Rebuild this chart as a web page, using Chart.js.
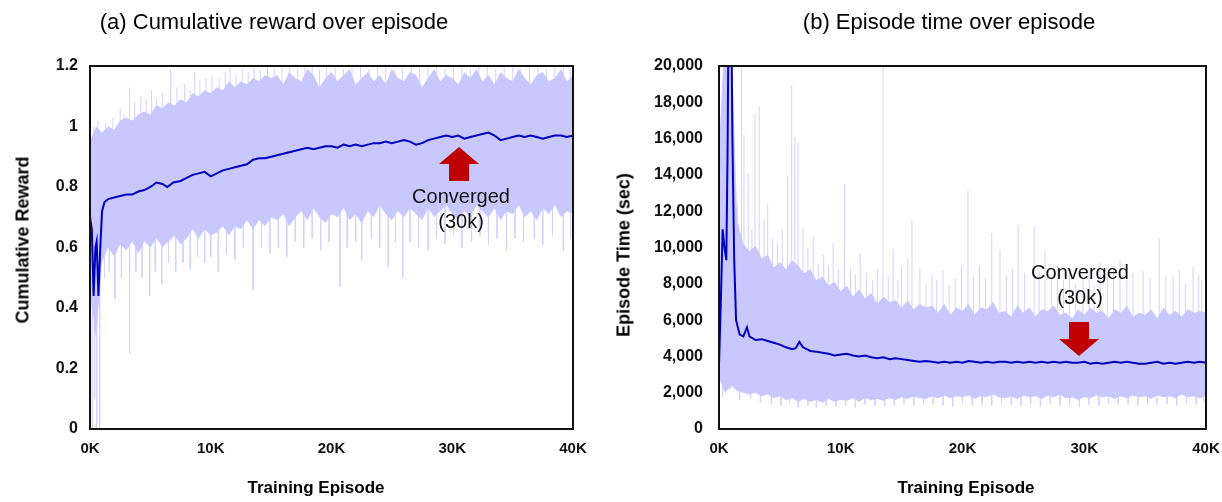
<!DOCTYPE html>
<html>
<head>
<meta charset="utf-8">
<script src="https://cdn.jsdelivr.net/npm/chart.js@4.4.0/dist/chart.umd.min.js"></script>
<style>
body { margin: 0; background: #fff; width: 1222px; height: 502px; position: relative; overflow: hidden; font-family: "Liberation Sans", Arial, sans-serif; color: #000; }
canvas { position: absolute; top: 0; }
#rewardChart { left: 0; }
#timeChart { left: 606px; }
.title { position: absolute; font-size: 22px; transform: translate(-50%, -50%); white-space: nowrap; }
.xtitle { position: absolute; font-size: 17px; font-weight: bold; transform: translate(-50%, -50%); white-space: nowrap; }
.ytitle { position: absolute; font-size: 18px; font-weight: bold; transform: translate(-50%, -50%) rotate(-90deg); white-space: nowrap; }
</style>
</head>
<body>
<canvas id="rewardChart" width="600" height="502"></canvas>
<canvas id="timeChart" width="625" height="502"></canvas>

<div class="title" style="left:274px; top:22px;">(a) Cumulative reward over episode</div>
<div class="title" style="left:949px; top:22px;">(b) Episode time over episode</div>
<div class="xtitle" style="left:316px; top:488px;">Training Episode</div>
<div class="xtitle" style="left:966px; top:488px;">Training Episode</div>
<div class="ytitle" style="left:23px; top:240px;">Cumulative Reward</div>
<div class="ytitle" style="left:624px; top:255px;">Episode Time (sec)</div>

<script>
// axis ticks
const episodeTicks = [0, 10000, 20000, 30000, 40000];
const episodeTickLabels = ['0K', '10K', '20K', '30K', '40K'];
const rewardTicks = [0, 0.2, 0.4, 0.6, 0.8, 1, 1.2];
const timeTicks = [0, 2000, 4000, 6000, 8000, 10000, 12000, 14000, 16000, 18000, 20000];

// raw-data band, dense part (read every 500 episodes)
const bandEpisodes = [0,500,1000,1500,2000,2500,3000,3500,4000,4500,5000,5500,6000,6500,7000,7500,8000,8500,9000,9500,
    10000,10500,11000,11500,12000,12500,13000,13500,14000,14500,15000,15500,16000,16500,17000,17500,18000,18500,19000,19500,
    20000,20500,21000,21500,22000,22500,23000,23500,24000,24500,25000,25500,26000,26500,27000,27500,28000,28500,29000,29500,
    30000,30500,31000,31500,32000,32500,33000,33500,34000,34500,35000,35500,36000,36500,37000,37500,38000,38500,39000,39500,40000];

const rewardUpper = [0.95,1.00,0.98,1.00,0.99,1.02,1.03,1.02,1.04,1.05,1.04,1.07,1.06,1.08,1.07,1.09,1.08,1.11,1.10,1.12,
    1.11,1.13,1.12,1.15,1.13,1.15,1.14,1.16,1.15,1.17,1.16,
    1.17,1.14,1.18,1.16,1.15,1.19,1.17,1.13,1.16,1.18,
    1.15,1.17,1.19,1.14,1.16,1.18,1.15,1.17,1.14,1.19,
    1.16,1.15,1.18,1.17,1.13,1.16,1.19,1.15,1.17,1.16,
    1.14,1.18,1.16,1.19,1.15,1.17,1.14,1.18,1.16,1.15,
    1.19,1.16,1.14,1.17,1.18,1.15,1.16,1.19,1.15,1.17];
const rewardLower = [0.45,0.30,0.55,0.60,0.57,0.61,0.59,0.62,0.58,0.62,0.60,0.63,0.60,0.62,0.64,0.61,0.63,0.66,0.63,0.66,
    0.64,0.65,0.67,0.64,0.67,0.66,0.69,0.66,0.69,0.67,0.70,
    0.69,0.71,0.67,0.70,0.72,0.69,0.73,0.70,0.68,0.71,
    0.70,0.73,0.69,0.71,0.68,0.72,0.70,0.74,0.71,0.69,
    0.72,0.70,0.73,0.71,0.69,0.73,0.70,0.72,0.74,0.71,
    0.69,0.72,0.70,0.74,0.72,0.70,0.73,0.69,0.72,0.71,
    0.74,0.70,0.72,0.69,0.73,0.71,0.74,0.70,0.72,0.71];

const timeUpper = [15500,22000,22000,11500,10200,9800,10100,9400,9600,8900,9200,8800,9300,9000,8600,8800,8200,8400,7900,8100,
    7600,7900,7300,7700,7200,7500,6900,7300,7000,7100,6700,7100,6600,6900,6700,6800,6400,6900,6300,6700,
    6500,6900,6300,6700,6600,7000,6400,6500,6200,6800,6400,6700,6200,6600,6500,6800,6300,6400,6100,6600,
    6300,6700,6400,6500,6100,6600,6400,6800,6200,6400,6300,6600,6100,6700,6300,6500,6200,6600,6400,6500,6400];
const timeLower = [2800,2000,2400,2100,2000,1900,2000,1800,1900,1700,1800,1600,1700,1500,1650,1500,1600,1450,1650,1500,
    1600,1550,1700,1500,1700,1600,1650,1550,1700,1600,1750,1650,1800,1700,1650,1800,1700,1850,1700,1800,
    1750,1850,1650,1800,1750,1900,1750,1700,1800,1650,1850,1750,1800,1650,1850,1750,1900,1700,1750,1600,
    1750,1700,1850,1750,1800,1650,1800,1700,1850,1750,1800,1650,1850,1750,1800,1700,1900,1750,1800,1700,1800];

// single raw episodes that stick out of the band: [episode, value]
const rewardSpikesUp = [[300,1.0],[660,1.02],[1300,1.01],[1900,1.03],[2500,1.06],[2800,1.04],[3280,1.13],[3700,1.08],[4200,1.1],
    [4660,1.09],[5100,1.12],[5500,1.09],[6000,1.11],[6680,1.19],[7200,1.13],[7840,1.14],[8300,1.12],[8670,1.18],[9100,1.15],
    [9600,1.16],[10100,1.17],[10700,1.16],[11200,1.18],[11600,1.2],[12100,1.17],[12600,1.19],[13100,1.18],[13600,1.2],
    [14100,1.19],[14700,1.2],[15300,1.19],[15900,1.2],[16500,1.2],[17200,1.19],[17800,1.2],[18400,1.2],[19000,1.19],
    [19600,1.2],[20300,1.2],[21000,1.19],[21700,1.2],[22400,1.2],[23100,1.19],[23800,1.2],[24500,1.2],[25200,1.19],
    [25900,1.2],[26600,1.2],[27300,1.19],[28000,1.2],[28700,1.2],[29400,1.19],[30100,1.2],[30800,1.2],[31500,1.19],
    [32200,1.2],[32900,1.2],[33600,1.19],[34300,1.2],[35000,1.2],[35700,1.19],[36400,1.2],[37100,1.2],[37800,1.19],
    [38500,1.2],[39200,1.2],[39800,1.19]];
const rewardSpikesDown = [[200,0],[380,0.1],[550,0],[800,0],[1200,0.5],[1600,0.52],[2070,0.43],[2600,0.5],[3280,0.25],
    [3800,0.52],[4300,0.5],[4940,0.44],[5400,0.52],[5940,0.48],[6500,0.55],[7100,0.52],[7700,0.55],[8300,0.53],[8900,0.57],
    [9500,0.55],[10000,0.57],[10620,0.52],[11300,0.58],[12000,0.56],[12700,0.6],[13500,0.46],[14200,0.6],[14900,0.58],
    [15600,0.6],[16300,0.57],[17000,0.62],[17700,0.6],[18400,0.63],[19100,0.59],[19800,0.62],[20700,0.47],[21300,0.6],
    [22000,0.62],[22500,0.56],[23300,0.63],[24000,0.6],[24700,0.535],[25300,0.62],[25900,0.5],[26500,0.62],[27200,0.6],
    [28000,0.59],[28700,0.63],[29400,0.61],[30100,0.64],[30800,0.6],[31600,0.62],[32300,0.64],[33000,0.61],[33700,0.63],
    [34500,0.59],[35200,0.63],[35900,0.62],[36800,0.63],[37500,0.61],[38300,0.64],[39200,0.59],[39800,0.63]];

const timeSpikesUp = [[200,12000],[500,16000],[1500,12400],[1860,20000],[2050,16200],[2400,14100],[2700,11000],[2960,17400],
    [3300,17750],[3700,11500],[4000,12400],[4400,10500],[4800,10200],[5200,11000],[5640,13900],[5970,18950],[6240,16100],
    [6490,15750],[6900,11100],[7300,10000],[7740,10600],[8150,9100],[8600,9600],[9000,9000],[9380,10250],[9800,8800],
    [10300,13500],[10800,8900],[11200,8500],[11600,9700],[12100,8600],[12600,8200],[13000,8800],[13470,20000],[13900,8400],
    [14300,9900],[14700,8200],[15000,8900],[15500,9400],[15850,11500],[16500,8900],[17000,8000],[17500,8500],[17880,8200],
    [18400,8700],[18900,7900],[19400,8300],[19930,8950],[20450,13150],[20900,8400],[21400,9000],[21900,8300],[22400,10800],
    [23080,9850],[23600,8500],[24100,8800],[24570,11250],[25100,8600],[25880,11150],[26300,8700],[26780,9850],[27300,8400],
    [27800,9000],[28300,8200],[28800,8800],[29300,8000],[29900,8300],[30400,8700],[30800,7900],[31300,9150],[31900,8400],
    [32400,8800],[32940,9300],[33500,8200],[34000,8600],[34830,8700],[35400,8300],[36150,10500],[36700,8400],[37300,8400],
    [37800,8800],[38300,8000],[38940,8950],[39400,8500],[39650,8200]];
const timeSpikesDown = [[300,1800],[900,2200],[1700,1600],[2600,1700],[3400,1500],[4300,1400],[5100,1300],[5800,1400],
    [6500,1200],[7300,1300],[8000,1200],[8800,1300],[9600,1250],[10400,1300],[11200,1200],[12000,1350],[12800,1300],
    [13600,1250],[14400,1300],[15200,1400],[16000,1300],[16800,1400],[17600,1350],[18400,1300],[19200,1250],[20000,1400],
    [20800,1300],[21600,1350],[22400,1300],[23200,1400],[24000,1350],[24800,1300],[25600,1400],[26400,1250],[27200,1400],
    [28000,1300],[28800,1350],[29600,1200],[30400,1350],[31200,1300],[32000,1400],[32800,1350],[33600,1400],[34400,1300],
    [35200,1400],[36000,1350],[36800,1400],[37600,1300],[38400,1400],[39200,1350],[39800,1500]];

// moving average: [episode, value]
const rewardMean = [[0,0.70],[150,0.66],[300,0.44],[450,0.60],[550,0.62],[700,0.44],[850,0.60],[1000,0.72],[1200,0.75],
    [1500,0.76],[2000,0.765],[2500,0.77],[3000,0.775],[3500,0.775],[4000,0.785],[4500,0.79],[5000,0.80],[5500,0.815],
    [6000,0.81],[6400,0.80],[6900,0.815],[7500,0.82],[8000,0.83],[8500,0.84],[9000,0.845],[9500,0.85],[10000,0.835],
    [10500,0.845],[11000,0.855],[11500,0.86],[12000,0.865],[12500,0.87],[13000,0.875],[13500,0.89],[14000,0.895],
    [14500,0.895],[15000,0.90],[15500,0.905],[16000,0.91],[16500,0.915],[17000,0.92],[17500,0.925],[18000,0.93],
    [18500,0.925],[19000,0.93],[19500,0.935],[20000,0.935],[20500,0.93],[21000,0.94],[21500,0.935],[22000,0.94],
    [22500,0.935],[23000,0.94],[23500,0.945],[24000,0.945],[24500,0.95],[25000,0.945],[25500,0.95],[26000,0.955],
    [26500,0.95],[27000,0.94],[27500,0.945],[28000,0.955],[28500,0.96],[29000,0.965],[29500,0.97],[30000,0.965],
    [30500,0.97],[31000,0.96],[31500,0.965],[32000,0.97],[32500,0.975],[33000,0.98],[33500,0.97],[34000,0.955],
    [34500,0.96],[35000,0.965],[35500,0.97],[36000,0.965],[36500,0.97],[37000,0.965],[37500,0.96],[38000,0.965],
    [38500,0.97],[39000,0.97],[39500,0.965],[40000,0.97]];
const timeMean = [[0,3500],[150,7000],[300,11000],[450,10000],[600,9300],[700,15000],[800,24000],[1000,24000],[1100,16000],
    [1250,9300],[1400,6000],[1700,5200],[2000,5100],[2300,5600],[2500,5100],[3000,4900],[3500,4950],[4000,4850],[4500,4750],
    [5000,4650],[5500,4500],[6000,4400],[6300,4450],[6600,4800],[6900,4500],[7500,4300],[8000,4250],[8500,4200],[9000,4150],
    [9500,4050],[10000,4100],[10500,4150],[11000,4050],[11500,4000],[12000,4050],[12500,3950],[13000,3900],[13500,3950],
    [14000,3850],[14500,3900],[15000,3850],[15500,3800],[16000,3750],[16500,3700],[17000,3750],[17500,3700],[18000,3650],
    [18500,3700],[19000,3650],[19500,3700],[20000,3650],[20500,3750],[21000,3700],[21500,3650],[22000,3700],[22500,3650],
    [23000,3700],[23500,3700],[24000,3650],[24500,3700],[25000,3650],[25500,3700],[26000,3650],[26500,3700],[27000,3650],
    [27500,3700],[28000,3650],[28500,3700],[29000,3650],[29500,3650],[30000,3700],[30500,3600],[31000,3650],[31500,3600],
    [32000,3650],[32500,3700],[33000,3650],[33500,3700],[34000,3650],[34500,3600],[35000,3600],[35500,3650],[36000,3700],
    [36500,3600],[37000,3650],[37500,3600],[38000,3650],[38500,3700],[39000,3650],[39500,3700],[40000,3650]];

const colors = {
    band: '#c8c8ff',
    spike: '#d2d2ff',
    mean: '#0000c0',
    arrow: '#c00000',
    text: '#111111'
};

function baseAt(pairs, ep) {
    let best = pairs[0];
    pairs.forEach(p => {
        if (Math.abs(p[0] - ep) < Math.abs(best[0] - ep)) best = p;
    });
    return best[1];
}

function spikePoints(spikes, mean) {
    const pts = [];
    spikes.forEach(s => {
        pts.push({ x: s[0], y: baseAt(mean, s[0]) }, { x: s[0], y: s[1] }, { x: s[0], y: null });
    });
    return pts;
}

// frame around the plot plus the "Converged" arrow and note
const framePlugin = {
    id: 'frameAndNote',
    afterDatasetsDraw(chart, args, opts) {
        const { ctx, chartArea: a, scales } = chart;
        ctx.save();
        ctx.strokeStyle = '#111';
        ctx.lineWidth = 2;
        ctx.strokeRect(a.left, a.top, a.right - a.left, a.bottom - a.top);

        const px = scales.x.getPixelForValue(opts.ep);
        const py = scales.y.getPixelForValue(opts.tip);
        const d = opts.dir; // 1 = pointing up, -1 = pointing down
        const headH = 17, headW = 20, stemW = 10, stemL = 17;
        ctx.fillStyle = colors.arrow;
        ctx.beginPath();
        ctx.moveTo(px, py);
        ctx.lineTo(px + headW, py + d * headH);
        ctx.lineTo(px + stemW, py + d * headH);
        ctx.lineTo(px + stemW, py + d * (headH + stemL));
        ctx.lineTo(px - stemW, py + d * (headH + stemL));
        ctx.lineTo(px - stemW, py + d * headH);
        ctx.lineTo(px - headW, py + d * headH);
        ctx.closePath();
        ctx.fill();

        ctx.fillStyle = colors.text;
        ctx.font = '20px "Liberation Sans", Arial, sans-serif';
        ctx.textAlign = 'center';
        ctx.textBaseline = 'middle';
        ctx.fillText('Converged', px + opts.dx, py + opts.dy);
        ctx.fillText('(30k)', px + opts.dx, py + opts.dy + 25);
        ctx.restore();
    }
};

function makeChart(id, cfg) {
    const ctx = document.getElementById(id).getContext('2d');
    return new Chart(ctx, {
        type: 'line',
        data: {
            datasets: [{
                data: cfg.mean.map(p => ({ x: p[0], y: p[1] })),
                borderColor: colors.mean,
                borderWidth: 2,
                order: 1
            }, {
                data: bandEpisodes.map((e, i) => ({ x: e, y: cfg.lower[i] })),
                borderWidth: 0,
                borderColor: 'rgba(0,0,0,0)',
                fill: false,
                order: 3
            }, {
                data: bandEpisodes.map((e, i) => ({ x: e, y: cfg.upper[i] })),
                borderWidth: 0,
                borderColor: 'rgba(0,0,0,0)',
                backgroundColor: colors.band,
                fill: '-1',
                order: 2
            }, {
                data: spikePoints(cfg.spikesUp, cfg.mean),
                borderColor: colors.spike,
                borderWidth: 1,
                order: 4
            }, {
                data: spikePoints(cfg.spikesDown, cfg.mean),
                borderColor: colors.spike,
                borderWidth: 1,
                order: 5
            }]
        },
        options: {
            responsive: false,
            animation: false,
            layout: { padding: { left: 0, top: 66, right: cfg.padRight, bottom: 0 } },
            elements: { point: { radius: 0 }, line: { tension: 0 } },
            plugins: {
                legend: { display: false },
                tooltip: { enabled: false },
                frameAndNote: cfg.note
            },
            scales: {
                x: {
                    type: 'linear',
                    min: 0,
                    max: 40000,
                    afterBuildTicks: s => { s.ticks = episodeTicks.map(v => ({ value: v })); },
                    afterFit: s => { s.height = 73; },
                    grid: { display: false, drawTicks: false },
                    border: { display: false },
                    ticks: {
                        padding: 11,
                        maxRotation: 0,
                        autoSkip: false,
                        color: colors.text,
                        font: { size: 15, weight: 'bold' },
                        callback: (v, i) => episodeTickLabels[i]
                    }
                },
                y: {
                    min: 0,
                    max: cfg.yTicks[cfg.yTicks.length - 1],
                    afterBuildTicks: s => { s.ticks = cfg.yTicks.map(v => ({ value: v })); },
                    afterFit: s => { s.width = cfg.yWidth; },
                    grid: { display: false, drawTicks: false },
                    border: { display: false },
                    ticks: {
                        padding: cfg.yPad,
                        autoSkip: false,
                        color: colors.text,
                        font: { size: 16, weight: 'bold' },
                        callback: cfg.yLabel
                    }
                }
            }
        },
        plugins: [framePlugin]
    });
}

Chart.defaults.font.family = '"Liberation Sans", Arial, sans-serif';

const rewardChart = makeChart('rewardChart', {
    mean: rewardMean, upper: rewardUpper, lower: rewardLower,
    spikesUp: rewardSpikesUp, spikesDown: rewardSpikesDown,
    yTicks: rewardTicks, yWidth: 90, yPad: 12, padRight: 27,
    yLabel: v => String(v),
    note: { ep: 30560, tip: 0.932, dir: 1, dx: 2, dy: 50 }
});

const timeChart = makeChart('timeChart', {
    mean: timeMean, upper: timeUpper, lower: timeLower,
    spikesUp: timeSpikesUp, spikesDown: timeSpikesDown,
    yTicks: timeTicks, yWidth: 113, yPad: 16, padRight: 25,
    yLabel: v => v.toLocaleString('en-US'),
    note: { ep: 29570, tip: 4020, dir: -1, dx: 1, dy: -83 }
});
</script>
</body>
</html>
